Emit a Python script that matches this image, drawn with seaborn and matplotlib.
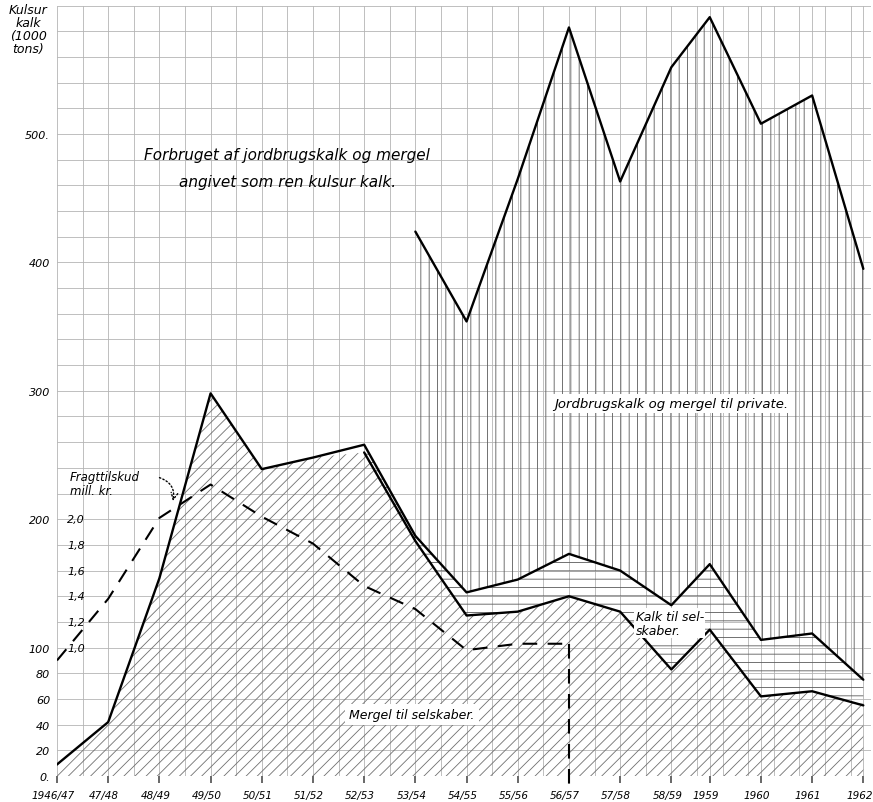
import numpy as np
import pandas as pd
import matplotlib
matplotlib.use("Agg")
import matplotlib.pyplot as plt
import matplotlib.transforms as mtransforms
import seaborn as sns

# --- data (1000 tons kulsur kalk) ---
periods = ["1946/47", "47/48", "48/49", "49/50", "50/51", "51/52", "52/53", "53/54",
           "54/55", "55/56", "56/57", "57/58", "58/59", "1959", "1960", "1961", "1962"]
# fiscal years first, then calendar years (1959 sits 3/4 of a step after 58/59)
x_pos = list(range(13)) + [12.75, 13.75, 14.75, 15.75]

selskaber_total = [9, 42, 154, 298, 239, 248, 258, 187, 143, 153, 173, 160, 133, 165, 106, 111, 75]
mergel_selskaber = [9, 42, 154, 298, 239, 248, 252, 183, 125, 128, 140, 128, 83, 114, 62, 66, 55]
private_top = [np.nan] * 7 + [424, 354, 465, 583, 463, 552, 591, 508, 530, 395]

# Fragttilskud, mill. kr. (1946/47 .. 56/57)
fragttilskud = [0.90, 1.38, 2.01, 2.27, 2.02, 1.81, 1.48, 1.30, 0.98, 1.03, 1.03]

y_tick_values = [0, 20, 40, 60, 80, 100, 200, 300, 400, 500]
y_tick_labels = ["0.", "20", "40", "60", "80", "100", "200", "300", "400", "500."]
fragt_ticks = [1.0, 1.2, 1.4, 1.6, 1.8, 2.0]

df = pd.DataFrame({"x": x_pos, "periode": periods, "total": selskaber_total,
                   "mergel": mergel_selskaber, "private": private_top})
fragt_df = pd.DataFrame({"x": x_pos[:len(fragttilskud)],
                         "fragt": np.array(fragttilskud) * 100})

sns.set_theme(style="white")
plt.rcParams["font.family"] = ["DejaVu Sans"]
plt.rcParams["font.style"] = "italic"
plt.rcParams["text.color"] = "black"
plt.rcParams["hatch.linewidth"] = 0.6

fig = plt.figure(figsize=(8.73, 8.03), dpi=100)
ax = fig.add_axes([57 / 873, 26 / 803, 814 / 873, 770.4 / 803])

# hatched areas
ax.fill_between(df["x"], 0, df["mergel"], facecolor="none", edgecolor="#707070",
                hatch="///", linewidth=0)
kalk = df.iloc[6:]
ax.fill_between(kalk["x"], kalk["mergel"], kalk["total"], facecolor="none",
                edgecolor="#5a5a5a", hatch="--", linewidth=0)
priv = df.dropna(subset=["private"])
ax.fill_between(priv["x"], priv["total"], priv["private"], facecolor="none",
                edgecolor="#5a5a5a", hatch="||", linewidth=0)

# lines
sns.lineplot(data=df, x="x", y="total", color="black", lw=1.7, ax=ax)
sns.lineplot(data=kalk, x="x", y="mergel", color="black", lw=1.7, ax=ax)
sns.lineplot(data=priv, x="x", y="private", color="black", lw=1.7, ax=ax)
sns.lineplot(data=fragt_df, x="x", y="fragt", color="black", lw=1.5,
             linestyle=(0, (7, 5)), ax=ax)
last = fragt_df.iloc[-1]
ax.plot([last["x"], last["x"]], [last["fragt"], -7], color="black", lw=1.5,
        linestyle=(0, (7, 5)), clip_on=False)

# axes and grid
ax.set_xlim(0, 15.9)
ax.set_ylim(0, 600)
ax.set_xticks(x_pos)
ax.set_xticklabels(periods, fontsize=7.5)
ax.set_xticks(np.arange(0, 16, 0.5), minor=True)
ax.set_yticks(y_tick_values)
ax.set_yticklabels(y_tick_labels, fontsize=8)
ax.set_yticks(np.arange(0, 601, 20), minor=True)
ax.grid(which="both", color="#b4b4b4", lw=0.6)
ax.tick_params(axis="x", which="major", bottom=True, length=5, direction="out",
               pad=5, color="#555555", labelcolor="black")
ax.tick_params(axis="x", which="minor", length=0)
ax.tick_params(axis="y", which="both", length=0, pad=5, labelcolor="black")
for s in ax.spines.values():
    s.set_visible(False)
ax.set_xlabel("")
ax.set_ylabel("")

# labels sit a little left of their ticks
shift = mtransforms.ScaledTranslation(-4 / 100, 0, fig.dpi_scale_trans)
for lbl in ax.get_xticklabels():
    lbl.set_transform(lbl.get_transform() + shift)

# secondary scale for Fragttilskud
for v in fragt_ticks:
    ax.text(0.2, v * 100, f"{v:.1f}".replace(".", ","), ha="left", va="center", fontsize=8)
ax.text(0.25, 228, "Fragttilskud\nmill. kr.", ha="left", va="center", fontsize=8.5,
        linespacing=1.1)
ax.annotate("", xy=(2.25, 212), xytext=(1.95, 233),
            arrowprops=dict(arrowstyle="->", linestyle=":", color="black", lw=1,
                            connectionstyle="arc3,rad=-0.5"))

# labels
ax.text(4.5, 484, "Forbruget af jordbrugskalk og mergel", ha="center", va="center",
        fontsize=11)
ax.text(4.5, 463, "angivet som ren kulsur kalk.", ha="center", va="center", fontsize=11)
ax.text(12.0, 290, "Jordbrugskalk og mergel til private.", ha="center", va="center",
        fontsize=9.5, bbox=dict(facecolor="white", edgecolor="none", pad=2))
ax.text(11.3, 119, "Kalk til sel-\nskaber.", ha="left", va="center", fontsize=9,
        linespacing=1.1, bbox=dict(facecolor="white", edgecolor="none", pad=1))
ax.text(6.93, 48, "Mergel til selskaber.", ha="center", va="center", fontsize=9,
        bbox=dict(facecolor="white", edgecolor="none", pad=3))

fig.text(28 / 873, 1 - 4 / 803, "Kulsur\nkalk\n(1000\ntons)", ha="center", va="top",
         fontsize=9, linespacing=1.0)

fig.savefig("out.png", dpi=100)
